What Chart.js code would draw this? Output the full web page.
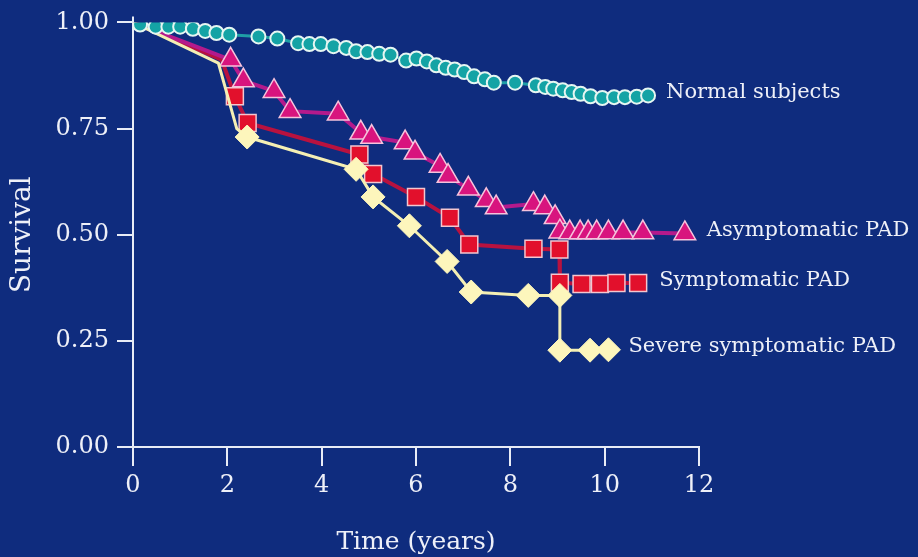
<!DOCTYPE html>
<html>
<head>
<meta charset="utf-8">
<script src="https://cdn.jsdelivr.net/npm/chart.js@4.4.1/dist/chart.umd.min.js"></script>
<style>
  html, body { margin: 0; padding: 0; background: #0f2c7e; }
  #wrap { width: 918px; height: 557px; }
</style>
</head>
<body>
<div id="wrap"><canvas id="survivalChart" width="918" height="557"></canvas></div>
<script>
// Axis ticks
const xTicks = [0, 2, 4, 6, 8, 10, 12];
const yTicks = [0, 0.25, 0.5, 0.75, 1];

// Names written next to the end of each curve
const seriesNames = ['Normal subjects', 'Asymptomatic PAD', 'Symptomatic PAD', 'Severe symptomatic PAD'];

// Normal subjects
const normalTime = [0.15, 0.48, 0.75, 1.0, 1.27, 1.53, 1.77, 2.04, 2.66, 3.06, 3.50, 3.74, 3.98, 4.25,
  4.52, 4.73, 4.97, 5.22, 5.46, 5.79, 6.01, 6.23, 6.43, 6.63, 6.82, 7.02, 7.23, 7.46, 7.65,
  8.10, 8.54, 8.74, 8.91, 9.11, 9.30, 9.49, 9.70, 9.95, 10.20, 10.43, 10.68, 10.92];
const normalSurv = [0.995, 0.99, 0.99, 0.99, 0.985, 0.98, 0.975, 0.971, 0.967, 0.962, 0.951, 0.949, 0.949, 0.944,
  0.940, 0.932, 0.930, 0.926, 0.924, 0.910, 0.915, 0.908, 0.899, 0.893, 0.889, 0.883, 0.873, 0.866, 0.858,
  0.858, 0.852, 0.848, 0.844, 0.840, 0.836, 0.832, 0.826, 0.822, 0.824, 0.824, 0.825, 0.828];

// Asymptomatic PAD
const asymTime = [0, 2.07, 2.34, 2.99, 3.33, 4.35, 4.83, 5.06, 5.77, 5.98, 6.51, 6.68, 7.11, 7.49, 7.70,
  8.49, 8.73, 8.95, 9.05, 9.26, 9.48, 9.65, 9.83, 10.08, 10.39, 10.81, 11.70];
const asymSurv = [1.0, 0.912, 0.863, 0.838, 0.791, 0.785, 0.740, 0.730, 0.717, 0.693, 0.662, 0.638, 0.608, 0.581, 0.564,
  0.572, 0.564, 0.541, 0.507, 0.505, 0.505, 0.505, 0.505, 0.505, 0.505, 0.505, 0.503];

// Symptomatic PAD
const sympTime = [0, 1.88, 2.16, 2.43, 4.80, 5.09, 6.00, 6.72, 7.13, 8.49, 9.04, 9.05, 9.51, 9.90, 10.25, 10.71];
const sympSurv = [1.0, 0.912, 0.826, 0.763, 0.689, 0.643, 0.589, 0.540, 0.477, 0.467, 0.465, 0.387, 0.384, 0.384, 0.386, 0.386];

// Severe symptomatic PAD
const severeTime = [0, 1.81, 2.20, 2.42, 4.73, 5.09, 5.86, 6.66, 7.17, 8.38, 9.05, 9.05, 9.69, 10.08];
const severeSurv = [1.0, 0.904, 0.75, 0.730, 0.654, 0.589, 0.521, 0.437, 0.365, 0.357, 0.357, 0.228, 0.228, 0.229];

// points that are only bends of the curve, no symbol drawn
const asymNoMark = [0];
const sympNoMark = [0, 1];
const severeNoMark = [0, 1, 2];

function toPoints(xs, ys) {
  return xs.map((x, i) => ({ x: x, y: ys[i] }));
}

function radiusSkip(size, skip) {
  return ctx => (skip.includes(ctx.dataIndex) ? 0 : size);
}

const serif = 'DejaVu Serif';

// Paint the blue slide background
const backgroundPlugin = {
  id: 'slideBackground',
  beforeDraw(chart) {
    const ctx = chart.ctx;
    ctx.save();
    ctx.fillStyle = '#0f2c7e';
    ctx.fillRect(0, 0, chart.width, chart.height);
    ctx.restore();
  },
  // the y axis line runs a little past 1.00
  afterDraw(chart) {
    const ctx = chart.ctx;
    const area = chart.chartArea;
    ctx.save();
    ctx.strokeStyle = '#e8ecf6';
    ctx.lineWidth = 2;
    ctx.beginPath();
    ctx.moveTo(area.left, area.top);
    ctx.lineTo(area.left, area.top - 6);
    ctx.stroke();
    ctx.restore();
  }
};

// Write each curve's name just right of its last point
const endLabelPlugin = {
  id: 'endLabels',
  afterDatasetsDraw(chart) {
    const ctx = chart.ctx;
    ctx.save();
    ctx.font = '21px "' + serif + '"';
    ctx.fillStyle = '#eef0f8';
    ctx.textAlign = 'left';
    ctx.textBaseline = 'middle';
    chart.data.datasets.forEach((ds, i) => {
      const meta = chart.getDatasetMeta(i);
      const last = meta.data[meta.data.length - 1];
      ctx.fillText(ds.label, last.x + ds.labelGap, last.y - 3);
    });
    ctx.restore();
  }
};

const chartConfig = {
  type: 'scatter',
  data: {
    datasets: [
      {
        label: seriesNames[0],
        data: toPoints(normalTime, normalSurv),
        showLine: true,
        borderColor: '#1f9ea6',
        borderWidth: 3,
        pointStyle: 'circle',
        pointRadius: 7,
        pointBackgroundColor: '#14a3a5',
        pointBorderColor: '#e6f6f2',
        pointBorderWidth: 2,
        labelGap: 18,
      },
      {
        label: seriesNames[3],
        data: toPoints(severeTime, severeSurv),
        showLine: true,
        borderColor: '#f4efb4',
        borderWidth: 3,
        pointStyle: 'rectRot',
        pointRadius: radiusSkip(12, severeNoMark),
        pointBackgroundColor: '#fdf6bc',
        pointBorderColor: '#fdf6bc',
        pointBorderWidth: 1,
        labelGap: 20,
      },
      {
        label: seriesNames[1],
        data: toPoints(asymTime, asymSurv),
        showLine: true,
        borderColor: '#b41a8c',
        borderWidth: 4,
        pointStyle: 'triangle',
        pointRadius: radiusSkip(12.5, asymNoMark),
        pointBackgroundColor: '#d8147e',
        pointBorderColor: '#f6c2dc',
        pointBorderWidth: 1.5,
        labelGap: 22,
      },
      {
        label: seriesNames[2],
        data: toPoints(sympTime, sympSurv),
        showLine: true,
        borderColor: '#b8123f',
        borderWidth: 4,
        pointStyle: 'rect',
        pointRadius: radiusSkip(12, sympNoMark),
        pointBackgroundColor: '#e2102c',
        pointBorderColor: '#f3c6cf',
        pointBorderWidth: 1.5,
        labelGap: 21,
      },
    ],
  },
  options: {
    responsive: false,
    animation: false,
    devicePixelRatio: 1,
    layout: { padding: { left: 0, top: 21, right: 219, bottom: 0 } },
    plugins: {
      legend: { display: false },
      tooltip: { enabled: false },
    },
    elements: { line: { tension: 0 } },
    scales: {
      x: {
        type: 'linear',
        min: 0,
        max: 12,
        afterFit: scale => { scale.height = 110; },
        afterBuildTicks: scale => { scale.ticks = xTicks.map(v => ({ value: v })); },
        border: { display: true, color: '#e8ecf6', width: 2 },
        grid: { display: true, drawOnChartArea: false, drawTicks: true, tickLength: 19, color: '#e8ecf6', lineWidth: 2 },
        ticks: { color: '#eef0f8', padding: 5, font: { family: serif, size: 24 }, maxRotation: 0 },
        title: {
          display: true,
          text: 'Time (years)',
          color: '#eef0f8',
          font: { family: serif, size: 25 },
          padding: { top: 0, bottom: 0 },
        },
      },
      y: {
        type: 'linear',
        min: 0,
        max: 1,
        afterFit: scale => { scale.width = 133; },
        afterBuildTicks: scale => { scale.ticks = yTicks.map(v => ({ value: v })); },
        border: { display: true, color: '#e8ecf6', width: 2 },
        grid: { display: true, drawOnChartArea: false, drawTicks: true, tickLength: 16, color: '#e8ecf6', lineWidth: 2 },
        ticks: {
          color: '#eef0f8',
          padding: 8,
          font: { family: serif, size: 24 },
          callback: v => v.toFixed(2),
        },
        title: {
          display: true,
          text: 'Survival',
          color: '#eef0f8',
          font: { family: serif, size: 28 },
          padding: { top: 6, bottom: 0 },
        },
      },
    },
  },
  plugins: [backgroundPlugin, endLabelPlugin],
};

const ctx = document.getElementById('survivalChart').getContext('2d');
new Chart(ctx, chartConfig);
</script>
</body>
</html>
